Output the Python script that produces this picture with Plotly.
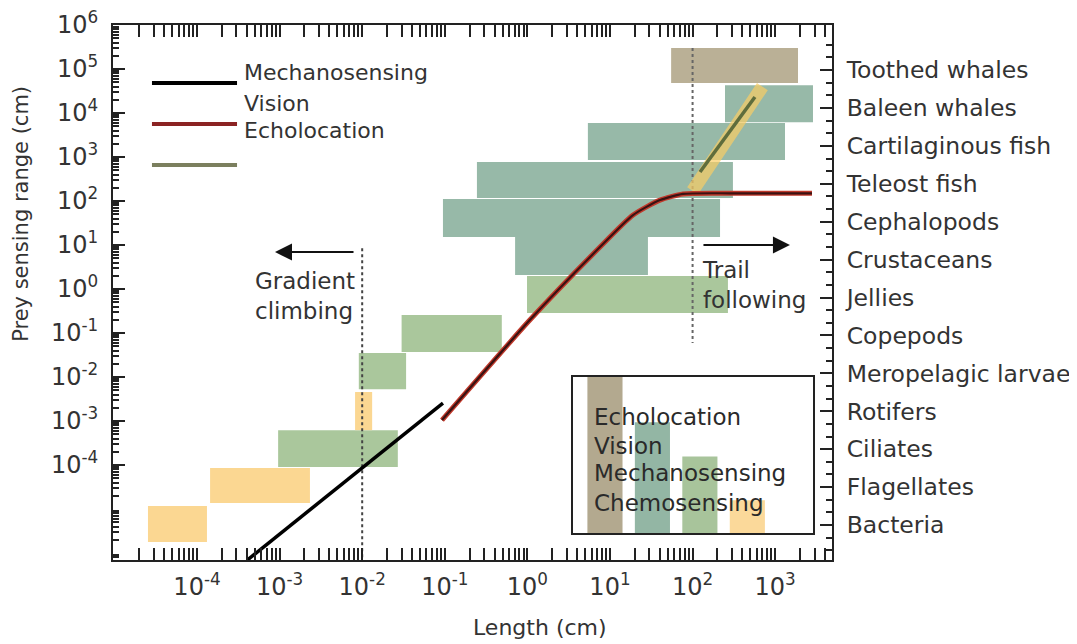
import numpy as np
import plotly.graph_objects as go

# ---------------- data ----------------
categories = ["Bacteria", "Flagellates", "Ciliates", "Rotifers", "Meropelagic larvae",
              "Copepods", "Jellies", "Crustaceans", "Cephalopods", "Teleost fish",
              "Cartilaginous fish", "Baleen whales", "Toothed whales"]
length_min = [2.55e-5, 1.44e-4, 9.6e-4, 8.2e-3, 9.1e-3, 0.030, 0.99, 0.71, 0.095, 0.245, 5.4, 247, 55]
length_max = [1.32e-4, 2.33e-3, 0.027, 0.0132, 0.034, 0.49, 268, 28.8, 215, 308, 1315, 2870, 1890]
range_min = [1.78e-6, 1.37e-5, 9.0e-5, 6.2e-4, 5.3e-3, 0.037, 0.285, 2.08, 15.2, 117, 855, 6.2e3, 4.8e4]
range_max = [1.17e-5, 8.5e-5, 6.2e-4, 4.56e-3, 0.035, 0.257, 1.97, 15.2, 111, 770, 5.9e3, 4.3e4, 3.0e5]
sense = ["Chemosensing", "Chemosensing", "Mechanosensing", "Chemosensing", "Mechanosensing",
         "Mechanosensing", "Mechanosensing", "Vision", "Vision", "Vision", "Vision", "Vision",
         "Echolocation"]

mech_length = [4.1e-4, 0.095]
mech_range = [7e-7, 2.56e-3]
vision_length = [0.0925, 1.07, 7.57, 19.0, 40.3, 76.5, 300, 2790]
vision_range = [1.05e-3, 0.197, 9.0, 48, 105, 145, 150, 150]
echo_length = [123, 569]
echo_range = [456, 2.31e4]
chemo_glow_length = [100, 700]
chemo_glow_range = [170, 4.0e4]

inset_senses = ["Echolocation", "Vision", "Mechanosensing", "Chemosensing"]
inset_share = [100, 71, 49, 21]

x_tick_exp = [-4, -3, -2, -1, 0, 1, 2, 3]
y_tick_exp = [-4, -3, -2, -1, 0, 1, 2, 3, 4, 5, 6]

gradient_length = 0.01
gradient_dots = [8.5, 1e-7]
trail_length = 100
trail_dots = [3.0e5, 0.059]

# ---------------- styles ----------------
FONT = "DejaVu Sans"
TXT = "#333333"
fill_colors = {"Echolocation": "#bab096", "Vision": "#97b9a8",
               "Mechanosensing": "#aac79c", "Chemosensing": "#fbd792"}
bar_colors = {"Echolocation": "#b3a98f", "Vision": "#93b6a4",
              "Mechanosensing": "#a8c49b", "Chemosensing": "#fbd99a"}

fig = go.Figure()

# range boxes
for i, c in enumerate(categories):
    x0, x1, y0, y1 = length_min[i], length_max[i], range_min[i], range_max[i]
    fig.add_trace(go.Scatter(
        x=[x0, x1, x1, x0, x0], y=[y0, y0, y1, y1, y0],
        mode="lines", fill="toself", fillcolor=fill_colors[sense[i]],
        line=dict(width=0), hoverinfo="skip", showlegend=False, name=c))

# dotted guides
fig.add_trace(go.Scatter(x=[gradient_length, gradient_length], y=gradient_dots, mode="lines",
                         line=dict(color="#444444", width=2, dash="dot"), showlegend=False))
fig.add_trace(go.Scatter(x=[trail_length, trail_length], y=trail_dots, mode="lines",
                         line=dict(color="#666666", width=2, dash="dot"), showlegend=False))

# chemosensing glow + echolocation line
fig.add_trace(go.Scatter(x=chemo_glow_length, y=chemo_glow_range, mode="lines",
                         line=dict(color="rgba(250,205,100,0.7)", width=13), showlegend=False))
fig.add_trace(go.Scatter(x=echo_length, y=echo_range, mode="lines",
                         line=dict(color="#5f6d3c", width=3.5), showlegend=False))

# vision curve
fig.add_trace(go.Scatter(x=vision_length, y=vision_range, mode="lines",
                         line=dict(color="#c0392b", width=5, shape="spline", smoothing=0.6),
                         showlegend=False))
fig.add_trace(go.Scatter(x=vision_length, y=vision_range, mode="lines",
                         line=dict(color="#3a1212", width=2.2, shape="spline", smoothing=0.6),
                         showlegend=False))

# mechanosensing line
fig.add_trace(go.Scatter(x=mech_length, y=mech_range, mode="lines",
                         line=dict(color="black", width=3.5), showlegend=False))

# invisible trace binding the category axis
centers = [np.sqrt(a * b) for a, b in zip(length_min, length_max)]
fig.add_trace(go.Scatter(x=centers, y=list(range(len(categories))), yaxis="y2",
                         mode="markers", marker=dict(opacity=0), hoverinfo="skip",
                         showlegend=False))

# inset bars
fig.add_trace(go.Bar(x=list(range(len(inset_senses))), y=inset_share, xaxis="x3", yaxis="y3",
                     width=0.74, marker=dict(color=[bar_colors[s] for s in inset_senses],
                                             line=dict(width=0)),
                     showlegend=False, hoverinfo="skip"))

minor_x = [m * 10.0 ** e for e in range(-6, 4) for m in range(2, 10)]
minor_y = [m * 10.0 ** e for e in range(-7, 6) for m in range(2, 10)]

axis_common = dict(showgrid=False, zeroline=False, showline=True, linecolor="#222222",
                   linewidth=2, ticks="inside", ticklen=12, tickwidth=1.5, tickcolor="#222222",
                   automargin=False, ticklabeloverflow="allow",
                   tickfont=dict(family=FONT, size=24, color=TXT))

fig.update_layout(
    width=1077, height=644,
    margin=dict(l=105, r=253, t=17, b=92),
    paper_bgcolor="white", plot_bgcolor="white",
    font=dict(family=FONT, color=TXT),
    xaxis=dict(type="log", range=[-5.017, 3.688], tickmode="array",
               tickvals=[10.0 ** e for e in x_tick_exp],
               ticktext=["10<sup>%d</sup>" % e for e in x_tick_exp],
               mirror="allticks", ticklabelstandoff=4,
               minor=dict(tickmode="array", tickvals=minor_x, ticks="inside", ticklen=6,
                          tickcolor="#222222", showgrid=False),
               **axis_common),
    yaxis=dict(type="log", range=[6 - 535 / 44, 6.001], tickmode="array",
               tickvals=[10.0 ** e for e in y_tick_exp],
               ticktext=["10<sup>%d</sup>" % e for e in y_tick_exp],
               ticklabelstandoff=8,
               minor=dict(tickmode="array", tickvals=minor_y, ticks="inside", ticklen=6,
                          tickcolor="#222222", showgrid=False),
               **axis_common),
    yaxis2=dict(overlaying="y", side="right", anchor="x", range=[-0.923, 13.19],
                tickmode="array", tickvals=list(range(len(categories))), ticktext=categories,
                showgrid=False, zeroline=False, showline=True, linecolor="#222222", linewidth=2,
                ticks="inside", ticklen=12, tickwidth=1.5, tickcolor="#222222",
                ticklabelstandoff=8, automargin=False, ticklabeloverflow="allow",
                tickfont=dict(family=FONT, size=23.5, color=TXT),
                minor=dict(tickmode="array",
                           tickvals=[i + d for i in range(-1, 14) for d in (1 / 3, 2 / 3)],
                           ticks="inside", ticklen=6, tickcolor="#222222", showgrid=False)),
    xaxis3=dict(domain=[0.640, 0.974], anchor="y3", range=[-0.67, 4.39], automargin=False,
                showgrid=False, zeroline=False, showticklabels=False, ticks="",
                showline=True, mirror=True, linecolor="#222222", linewidth=2),
    yaxis3=dict(domain=[0.0505, 0.342], anchor="x3", range=[0, 100], automargin=False,
                showgrid=False, zeroline=False, showticklabels=False, ticks="",
                showline=True, mirror=True, linecolor="#222222", linewidth=2),
)

# top-left key (line samples and labels)
key_colors = ["black", "#8b2323", "#7b7f5e"]
key_y = [0.8916, 0.8150, 0.7383]
for col, yy in zip(key_colors, key_y):
    fig.add_shape(type="line", xref="paper", yref="paper", x0=0.0542, x1=0.1725, y0=yy, y1=yy,
                  line=dict(color=col, width=4))
for lab, yy in zip(["Mechanosensing", "Vision", "Echolocation"], [0.9103, 0.8542, 0.8019]):
    fig.add_annotation(text=lab, xref="paper", yref="paper", x=0.1794, y=yy, xanchor="left",
                       yanchor="middle", showarrow=False, font=dict(family=FONT, size=22, color=TXT))

# inset labels
for lab, yy in zip(inset_senses, [0.2673, 0.2131, 0.1626, 0.1065]):
    fig.add_annotation(text=lab, xref="paper", yref="paper", x=0.666, y=yy, xanchor="left",
                       yanchor="middle", showarrow=False, font=dict(family=FONT, size=23, color="#2a2a2a"))

# arrows and notes
fig.add_annotation(x=np.log10(8.8e-4), y=np.log10(6.9), xref="x", yref="y", ax=80, ay=0,
                   axref="pixel", ayref="pixel", text="", showarrow=True, arrowhead=2,
                   arrowsize=1.7, arrowwidth=2, arrowcolor="#111111")
fig.add_annotation(x=np.log10(1510), y=np.log10(10), xref="x", yref="y", ax=-88, ay=0,
                   text="", showarrow=True, arrowhead=2, arrowsize=1.7, arrowwidth=2,
                   arrowcolor="#111111")
fig.add_annotation(text="Gradient<br>climbing", x=np.log10(8.6e-3), y=np.log10(0.69), xref="x",
                   yref="y", xanchor="right", yanchor="middle", align="left", showarrow=False,
                   font=dict(family=FONT, size=23, color=TXT))
fig.add_annotation(text="Trail<br>following", x=np.log10(123), y=np.log10(1.23), xref="x",
                   yref="y", xanchor="left", yanchor="middle", align="left", showarrow=False,
                   font=dict(family=FONT, size=23, color=TXT))

# axis titles
fig.add_annotation(text="Length (cm)", xref="paper", yref="paper", x=0.594, y=-0.127,
                   xanchor="center", yanchor="middle", showarrow=False,
                   font=dict(family=FONT, size=22, color=TXT))
fig.add_annotation(text="Prey sensing range (cm)", xref="paper", yref="paper", x=-0.128, y=0.647,
                   xanchor="center", yanchor="middle", textangle=-90, showarrow=False,
                   font=dict(family=FONT, size=21, color=TXT))

fig.write_html("out.html")
